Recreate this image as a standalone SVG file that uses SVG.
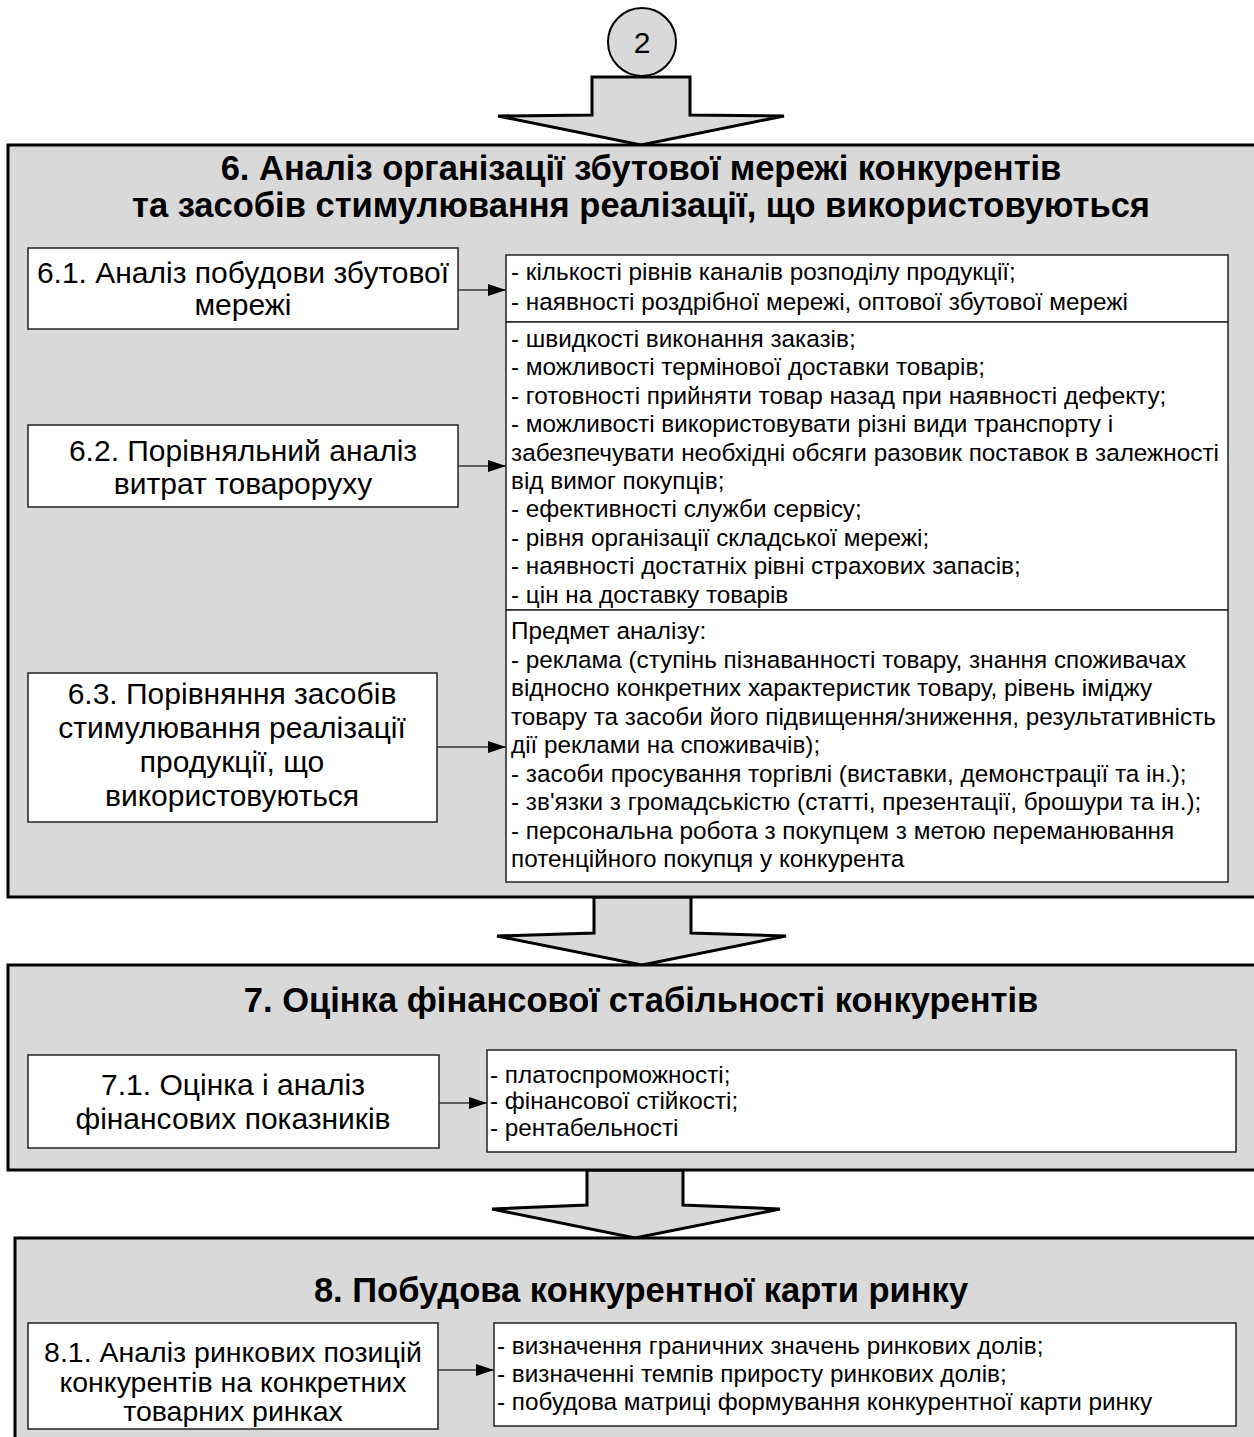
<svg xmlns="http://www.w3.org/2000/svg" width="1254" height="1437" viewBox="0 0 1254 1437">
  <defs>
    <marker id="ah" markerWidth="18" markerHeight="12" refX="18" refY="6" orient="auto" markerUnits="userSpaceOnUse">
      <path d="M0,0 L18,6 L0,12 Z" fill="#000"/>
    </marker>
    <style>
      .sect { fill: #d9d9d9; stroke: #000; stroke-width: 3; }
      .bigarrow { fill: #d9d9d9; stroke: #000; stroke-width: 3; stroke-linejoin: miter; }
      .box { fill: #fff; stroke: #222; stroke-width: 1.5; }
      .title { font-family: "Liberation Sans", Arial, sans-serif; font-weight: bold; font-size: 34.5px; fill: #000; text-anchor: middle; }
      .lbl { font-family: "Liberation Sans", Arial, sans-serif; font-size: 30px; fill: #000; text-anchor: middle; }
      .lbl8 { font-family: "Liberation Sans", Arial, sans-serif; font-size: 28.5px; fill: #000; text-anchor: middle; }
      .lst { font-family: "Liberation Sans", Arial, sans-serif; font-size: 24.3px; fill: #000; }
      .conn { stroke: #333; stroke-width: 1.5; fill: none; }
    </style>
  </defs>
  <rect width="1254" height="1437" fill="#fff"/>

  <!-- off-page connector -->
  <g id="ref2">
    <circle cx="642" cy="42" r="34" fill="#d9d9d9" stroke="#000" stroke-width="2"/>
    <text x="642" y="53" class="lbl">2</text>
  </g>

  <!-- block arrows between sections -->
  <g id="flow">
    <polygon class="bigarrow" points="592,77 690,77 690,115 784,116 641,145 498,116 592,115"/>
    <polygon class="bigarrow" points="594,897 691,897 691,933 786,936 642,965 497,936 594,933"/>
    <polygon class="bigarrow" points="587,1170 683,1170 683,1205 780,1209 635,1238 492,1209 587,1205"/>
  </g>

  <!-- section 6 -->
  <g id="s6">
    <rect class="sect" x="8" y="145" width="1260" height="752"/>
    <text x="641" y="180" class="title">6. Аналіз організації збутової мережі конкурентів</text>
    <text x="641" y="217" class="title">та засобів стимулювання реалізації, що використовуються</text>
  </g>
  <g id="n61">
    <rect class="box" x="28" y="248" width="430" height="81"/>
    <text x="243" y="283" class="lbl">6.1. Аналіз побудови збутової</text>
    <text x="243" y="315" class="lbl">мережі</text>
  </g>
  <g id="n62">
    <rect class="box" x="28" y="425" width="430" height="82"/>
    <text x="243" y="461" class="lbl">6.2. Порівняльний аналіз</text>
    <text x="243" y="494" class="lbl">витрат товароруху</text>
  </g>
  <g id="n63">
    <rect class="box" x="28" y="673" width="409" height="149"/>
    <text x="232" y="704" class="lbl">6.3. Порівняння засобів</text>
    <text x="232" y="738" class="lbl">стимулювання реалізації</text>
    <text x="232" y="772" class="lbl">продукції, що</text>
    <text x="232" y="806" class="lbl">використовуються</text>
  </g>
  <g id="d61">
    <rect class="box" x="506" y="255" width="722" height="67"/>
    <text class="lst" x="511" y="280">- кількості рівнів каналів розподілу продукції;</text>
    <text class="lst" x="511" y="310">- наявності роздрібної мережі, оптової збутової мережі</text>
  </g>
  <g id="d62">
    <rect class="box" x="506" y="322" width="722" height="288"/>
    <text class="lst" x="511" y="347">- швидкості виконання заказів;</text>
    <text class="lst" x="511" y="375.4">- можливості термінової доставки товарів;</text>
    <text class="lst" x="511" y="403.8">- готовності прийняти товар назад при наявності дефекту;</text>
    <text class="lst" x="511" y="432.2">- можливості використовувати різні види транспорту і</text>
    <text class="lst" x="511" y="460.6">забезпечувати необхідні обсяги разовик поставок в залежності</text>
    <text class="lst" x="511" y="489">від вимог покупців;</text>
    <text class="lst" x="511" y="517.4">- ефективності служби сервісу;</text>
    <text class="lst" x="511" y="545.8">- рівня організації складської мережі;</text>
    <text class="lst" x="511" y="574.2">- наявності достатніх рівні страхових запасів;</text>
    <text class="lst" x="511" y="602.6">- цін на доставку товарів</text>
  </g>
  <g id="d63">
    <rect class="box" x="506" y="610" width="722" height="272"/>
    <text class="lst" x="511" y="639">Предмет аналізу:</text>
    <text class="lst" x="511" y="667.5">- реклама (ступінь пізнаванності товару, знання споживачах</text>
    <text class="lst" x="511" y="696">відносно конкретних характеристик товару, рівень іміджу</text>
    <text class="lst" x="511" y="724.5">товару та засоби його підвищення/зниження, результативність</text>
    <text class="lst" x="511" y="753">дії реклами на споживачів);</text>
    <text class="lst" x="511" y="781.5">- засоби просування торгівлі (виставки, демонстрації та ін.);</text>
    <text class="lst" x="511" y="810">- зв'язки з громадськістю (статті, презентації, брошури та ін.);</text>
    <text class="lst" x="511" y="838.5">- персональна робота з покупцем з метою переманювання</text>
    <text class="lst" x="511" y="867">потенційного покупця у конкурента</text>
  </g>

  <!-- section 7 -->
  <g id="s7">
    <rect class="sect" x="8" y="965" width="1260" height="205"/>
    <text x="641" y="1012" class="title">7. Оцінка фінансової стабільності конкурентів</text>
  </g>
  <g id="n71">
    <rect class="box" x="28" y="1055" width="411" height="93"/>
    <text x="233" y="1095" class="lbl">7.1. Оцінка і аналіз</text>
    <text x="233" y="1129" class="lbl">фінансових показників</text>
  </g>
  <g id="d71">
    <rect class="box" x="487" y="1050" width="749" height="102"/>
    <text class="lst" x="490" y="1083">- платоспроможності;</text>
    <text class="lst" x="490" y="1109">- фінансової стійкості;</text>
    <text class="lst" x="490" y="1136">- рентабельності</text>
  </g>

  <!-- section 8 -->
  <g id="s8">
    <rect class="sect" x="15" y="1238" width="1260" height="220"/>
    <text x="641" y="1302" class="title">8. Побудова конкурентної карти ринку</text>
  </g>
  <g id="n81">
    <rect class="box" x="28" y="1323" width="410" height="106"/>
    <text x="233" y="1362" class="lbl8">8.1. Аналіз ринкових позицій</text>
    <text x="233" y="1392" class="lbl8">конкурентів на конкретних</text>
    <text x="233" y="1421" class="lbl8">товарних ринках</text>
  </g>
  <g id="d81">
    <rect class="box" x="494" y="1323" width="742" height="103"/>
    <text class="lst" x="497" y="1354">- визначення граничних значень ринкових долів;</text>
    <text class="lst" x="497" y="1382">- визначенні темпів приросту ринкових долів;</text>
    <text class="lst" x="497" y="1410">- побудова матриці формування конкурентної карти ринку</text>
  </g>

  <!-- connectors -->
  <g id="connectors">
    <line class="conn" x1="458" y1="290" x2="506" y2="290" marker-end="url(#ah)"/>
    <line class="conn" x1="458" y1="466" x2="506" y2="466" marker-end="url(#ah)"/>
    <line class="conn" x1="437" y1="747" x2="506" y2="747" marker-end="url(#ah)"/>
    <line class="conn" x1="439" y1="1103" x2="487" y2="1103" marker-end="url(#ah)"/>
    <line class="conn" x1="438" y1="1370" x2="494" y2="1370" marker-end="url(#ah)"/>
  </g>
</svg>
